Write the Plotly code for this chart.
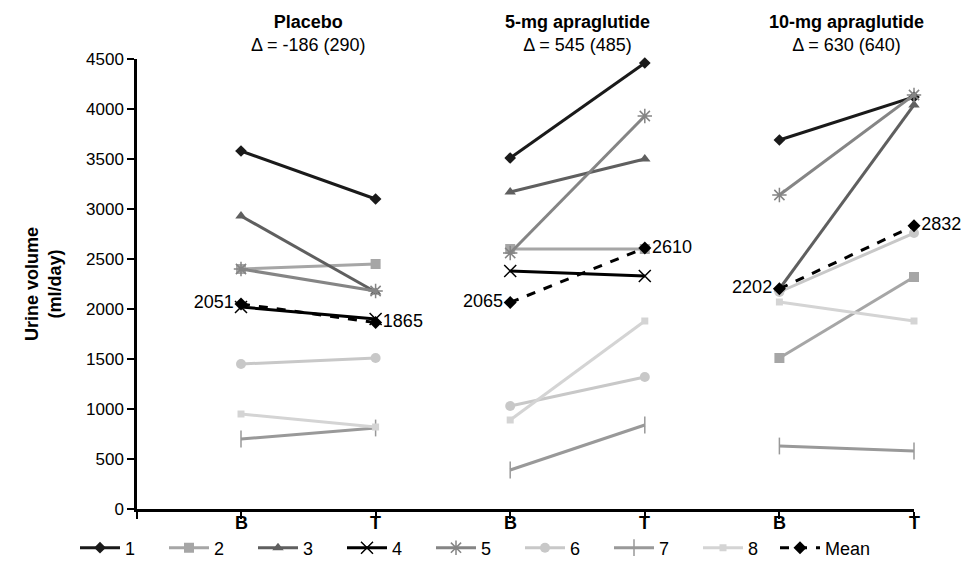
import plotly.graph_objects as go

# Positions: Placebo B, T, 5-mg B, T, 10-mg B, T
x_pos = [1, 2, 3, 4, 5, 6]
x_labels = ["B", "T", "B", "T", "B", "T"]
groups = ["Placebo", "5-mg apraglutide", "10-mg apraglutide"]
deltas = ["\u0394 = -186 (290)", "\u0394 = 545 (485)", "\u0394 = 630 (640)"]

# Urine volume (ml/day) per subject: [P_B, P_T, 5_B, 5_T, 10_B, 10_T]
s1 = [3580, 3100, 3510, 4460, 3690, 4120]
s2 = [2400, 2450, 2600, 2600, 1510, 2320]
s3 = [2930, 2170, 3170, 3500, 2200, 4040]
s4 = [2020, 1900, 2380, 2330, None, None]
s5 = [2400, 2180, 2560, 3930, 3140, 4140]
s6 = [1450, 1510, 1030, 1320, 2170, 2760]
s7 = [700, 810, 390, 840, 630, 580]
s8 = [950, 820, 890, 1880, 2070, 1880]
mean = [2051, 1865, 2065, 2610, 2202, 2832]

series = [
    ("1", s1, "#1a1a1a", "diamond", 9, 1),
    ("2", s2, "#a6a6a6", "square", 10, 1),
    ("3", s3, "#5f5f5f", "triangle-up", 10, 1),
    ("4", s4, "#000000", "x-thin-open", 12, 1.5),
    ("5", s5, "#858585", "asterisk-open", 12, 1.5),
    ("6", s6, "#c8c8c8", "circle", 10, 1),
    ("7", s7, "#999999", "line-ns-open", 12, 1.5),
    ("8", s8, "#d4d4d4", "square", 7, 1),
]

def split(vals):
    xs, ys = [], []
    for g in range(3):
        xs += [x_pos[2 * g], x_pos[2 * g + 1], None]
        ys += [vals[2 * g], vals[2 * g + 1], None]
    return xs, ys

fig = go.Figure()
FONT = "Liberation Sans, Arial, sans-serif"

for name, vals, col, sym, size, lw in series:
    xs, ys = split(vals)
    mk = dict(symbol=sym, size=size, color=col)
    if sym.endswith("open"):
        mk["line"] = dict(color=col, width=lw)
    fig.add_trace(go.Scatter(
        x=xs, y=ys, mode="lines+markers", name=name,
        line=dict(color=col, width=3), marker=mk, connectgaps=False,
        cliponaxis=False, legend="legend",
    ))

xs, ys = split(mean)
texts = []
tpos = []
for i, v in enumerate(mean):
    texts.append(str(v))
    tpos.append("middle left" if i % 2 == 0 else "middle right")
    if i % 2 == 1:
        texts.append("")
        tpos.append("middle right")
fig.add_trace(go.Scatter(
    x=xs, y=ys, mode="lines+markers+text", name="Mean",
    line=dict(color="#000000", width=3, dash="dash"),
    marker=dict(symbol="diamond", size=10, color="#000000"),
    text=texts, textposition=tpos,
    textfont=dict(size=18, color="#000000", family=FONT),
    connectgaps=False, cliponaxis=False, legend="legend2",
))

# Page body adds an 8px offset; figure is sized to compensate
W, H = 966, 567
L, R, T, B = 129, 60, 51, 66
plot_w = W - L - R
plot_h = H - T - B

annotations = []
for g in range(3):
    annotations.append(dict(
        x=(x_pos[2 * g] + x_pos[2 * g + 1]) / 2, y=1.0, xref="x", yref="paper",
        text="<b>" + groups[g] + "</b><br>" + deltas[g], showarrow=False,
        yanchor="bottom", yshift=2, align="center",
        font=dict(size=18, color="#000000", family=FONT),
    ))
for xp, lab in zip(x_pos, x_labels):
    annotations.append(dict(
        x=xp, y=0, xref="x", yref="paper", text="<b>%s</b>" % lab,
        showarrow=False, xanchor="center", yanchor="middle", yshift=-14,
        font=dict(size=18, color="#000000", family=FONT),
    ))
annotations.append(dict(
    x=(35 - L) / plot_w, y=0.5, xref="paper", yref="paper",
    xanchor="center", yanchor="middle",
    text="<b>Urine volume<br>(ml/day)</b>", showarrow=False, textangle=-90,
    font=dict(size=18, color="#000000", family=FONT),
))

x_left = 1 - 104 / 134.6
leg_y = -(540 - (H - B)) / plot_h

fig.update_layout(
    width=W, height=H,
    margin=dict(l=L, r=R, t=T, b=B, autoexpand=False),
    paper_bgcolor="white", plot_bgcolor="white",
    font=dict(family=FONT, size=17, color="#000000"),
    showlegend=True,
    legend=dict(
        orientation="h", xref="paper", yref="paper",
        x=(67 - L) / plot_w, xanchor="left", y=leg_y, yanchor="middle",
        entrywidth=34, entrywidthmode="pixels",
        font=dict(size=18, family=FONT), itemwidth=40,
    ),
    legend2=dict(
        orientation="h", xref="paper", yref="paper",
        x=(767 - L) / plot_w, xanchor="left", y=leg_y, yanchor="middle",
        font=dict(size=18, family=FONT), itemwidth=40,
    ),
    annotations=annotations,
    xaxis=dict(
        range=[x_left, 6], tickvals=[x_left] + x_pos,
        showticklabels=False,
        showline=True, linecolor="#000000", linewidth=2.5,
        ticks="outside", ticklen=7, tickwidth=2, tickcolor="#000000",
        showgrid=False, zeroline=False,
    ),
    yaxis=dict(
        range=[0, 4500], tickvals=list(range(0, 4501, 500)),
        showline=True, linecolor="#000000", linewidth=2.5,
        ticks="outside", ticklen=7, tickwidth=2, tickcolor="#000000",
        showgrid=False, zeroline=False, tickfont=dict(size=17),
    ),
)

fig.write_html("out.html")
